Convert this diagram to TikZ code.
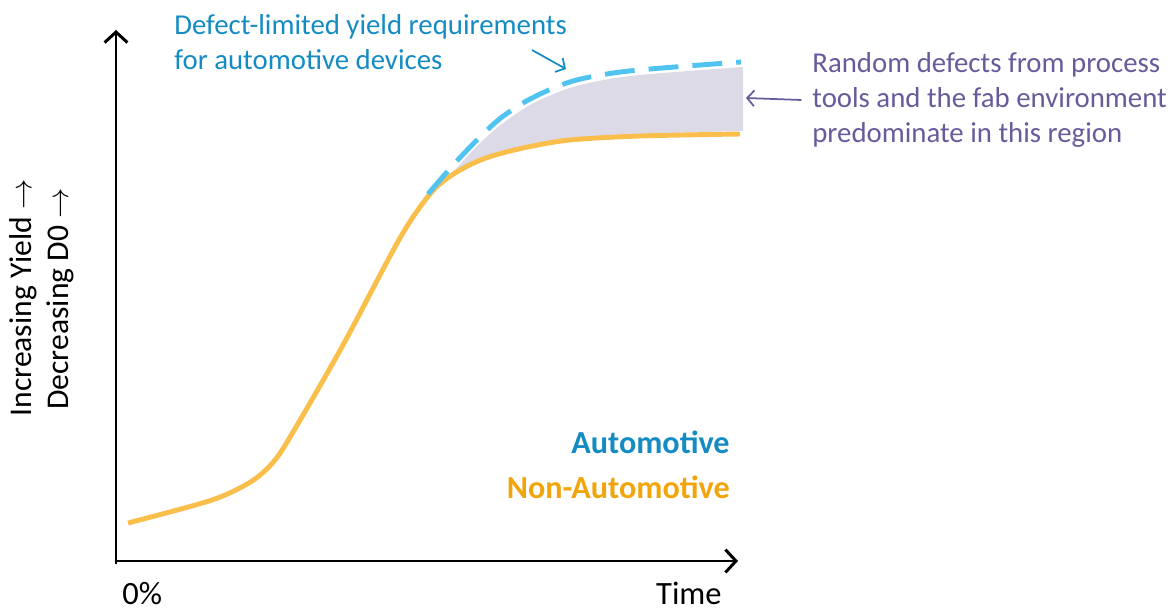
\documentclass[tikz,border=0pt]{standalone}
\usepackage{fontspec}
\setmainfont{Carlito}
\usetikzlibrary{arrows.meta}
\definecolor{reqblue}{RGB}{20,140,195}
\definecolor{dashblue}{RGB}{80,195,240}
\definecolor{curveorange}{RGB}{250,190,75}
\definecolor{textorange}{RGB}{242,165,10}
\definecolor{regionpurple}{RGB}{105,90,155}
\definecolor{regionfill}{RGB}{221,218,232}
\tikzset{
  axis/.style={line width=1.7pt, -{Straight Barb[length=6pt,width=13pt,line width=1.7pt]}},
  lbl/.style={font=\fontsize{16.4}{19.8}\selectfont, inner sep=0pt},
  biglbl/.style={font=\fontsize{18.5}{22}\selectfont, inner sep=0pt},
  keylbl/.style={font=\fontsize{18.3}{22}\selectfont\bfseries, inner sep=0pt, anchor=east},
  pointer/.style={line width=1pt, -{Straight Barb[length=4pt,width=9pt]}},
}

\begin{document}
\begin{tikzpicture}[x=0.02cm, y=-0.02cm]
		%%%%% START %%%%%
		\useasboundingbox (0, 0) rectangle (1176, 611);
		
		% axes
		\coordinate (origin) at (116, 561);
		\coordinate (ytip) at (116, 30);
		\coordinate (xtip) at (738, 561);
		\draw[axis] ([yshift=-1.5pt]origin) -- (ytip);
		\draw[axis] ([xshift=-0.8pt]origin) -- (xtip);
		
		% gap between the two requirements
		\fill[regionfill] plot[smooth] coordinates {(452, 173) (478, 145) (502, 124) (532, 104) (573, 87) (630, 76) (743, 67)}
		  -- (743, 131)
		  -- plot[smooth] coordinates {(740, 131) (640, 134) (570, 138) (523, 146) (483, 157) (452, 173)} -- cycle;
		
		% non-automotive curve
		\draw[curveorange, line width=2.8pt] plot[smooth] coordinates {(128, 523) (212, 500) (252, 481) (275, 460) (296, 427) (343, 345) (400, 238) (430, 194) (452, 175) (483, 159) (523, 148) (570, 140) (640, 136) (740, 134)};
		
		% automotive curve
		\draw[dashblue, line width=2.8pt, dash pattern=on 17pt off 8pt] plot[smooth] coordinates {(428, 194) (455, 163) (480, 137) (502, 117) (532, 98) (573, 81) (629, 71) (741, 62)};
		
		% labels
		\node[biglbl, font=\fontsize{18}{22}\selectfont, rotate=90] (yieldlbl) at (23, 298) {Increasing Yield $\to$};
		\node[biglbl, font=\fontsize{18}{22}\selectfont, rotate=90] (dzerolbl) at (60, 299) {Decreasing D0 $\to$};
		\node[biglbl, anchor=west] (zerolbl) at (122, 594) {0\%};
		\node[biglbl, anchor=east] (timelbl) at (722, 593) {Time};
		\node[keylbl, text=reqblue] (autolbl) at (730, 442) {Automotive};
		\node[keylbl, text=textorange] (nonautolbl) at (730, 487) {Non-Automotive};
		
		\node[lbl, anchor=west, align=left, text=reqblue] (reqlbl) at (174, 42) {Defect-limited yield requirements\\for automotive devices};
		\node[lbl, anchor=west, align=left, text=regionpurple] (randlbl) at (812, 100) {Random defects from process\\tools and the fab environment\\predominate in this region};
		
		% pointers
		\coordinate (reqtail) at (532, 50);
		\coordinate (reqtip) at (566, 69);
		\draw[pointer, reqblue] (reqtail) -- (reqtip);
		\coordinate (regiontip) at (746, 98);
		\draw[pointer, regionpurple] ([xshift=-6pt]randlbl.west) -- (regiontip);
		
		%%%%% END %%%%%
	\end{tikzpicture}
\end{document}
